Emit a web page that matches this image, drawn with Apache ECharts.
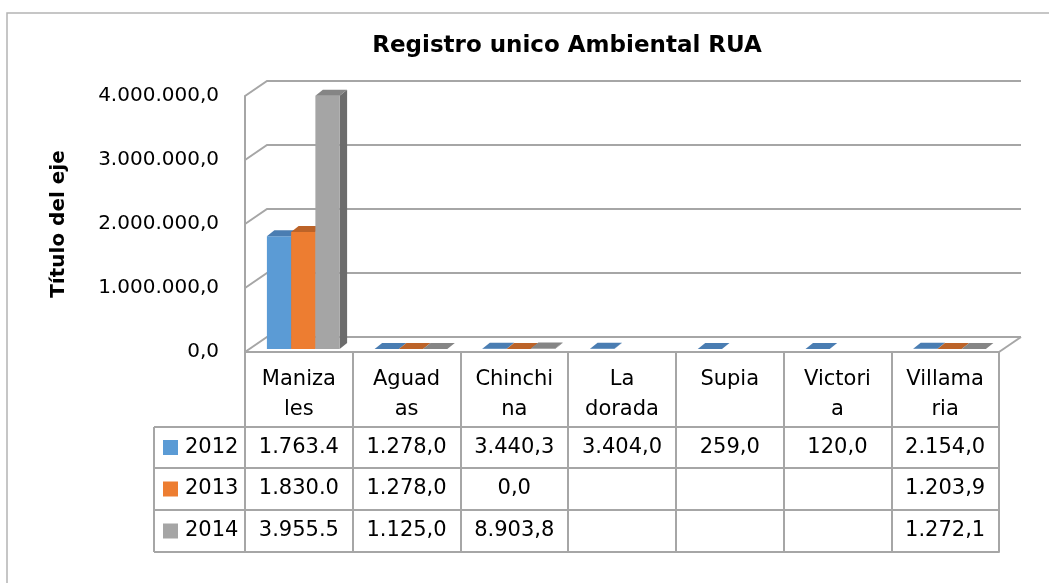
<!DOCTYPE html>
<html>
<head>
<meta charset="utf-8">
<script src="https://cdn.jsdelivr.net/npm/echarts@6/dist/echarts.min.js"></script>
<style>
  html, body { margin: 0; padding: 0; background: #fff; }
  #chart { width: 1049px; height: 583px; }
</style>
</head>
<body>
<div id="chart"></div>
<script>
// Municipios (header text of the data table, wrapped as in the cells)
const categories = ['Maniza\nles', 'Aguad\nas', 'Chinchi\nna', 'La\ndorada', 'Supia', 'Victori\na', 'Villama\nria'];
const years = ['2012', '2013', '2014'];
const values2012 = [1763400, 1278.0, 3440.3, 3404.0, 259.0, 120.0, 2154.0];
const values2013 = [1830000, 1278.0, 0.0, null, null, null, 1203.9];
const values2014 = [3955500, 1125.0, 8903.8, null, null, null, 1272.1];
const yTicks = [0, 1000000, 2000000, 3000000, 4000000];

const seriesValues = [values2012, values2013, values2014];
const FONT = 'DejaVu Sans';
const LINE = '#A6A6A6';
const faceColors = [
  { front: '#5B9BD5', top: '#4A7DB2', side: '#3F6C9B' },
  { front: '#ED7D31', top: '#BC6328', side: '#A55622' },
  { front: '#A5A5A5', top: '#858585', side: '#6C6C6C' }
];

// plot frame and perspective depth
const GRID = { left: 245, right: 50, top: 96, bottom: 231 };
const FRONT_Y = 583 - GRID.bottom;
const DX = 22, DY = -15;          // floor depth
const BAR_DX = 7.5, BAR_DY = -6;  // bar depth
const BAR_SHIFT = 0.2;            // bars sit slightly behind the front edge
const ROW_OFFSETS = [75, 116, 158, 200];

// 4000000 -> "4.000.000,0"
function fmtEs(v) {
  const parts = Math.abs(v).toFixed(1).split('.');
  return (v < 0 ? '-' : '') + parts[0].replace(/\B(?=(\d{3})+(?!\d))/g, '.') + ',' + parts[1];
}
// table cells are narrow: long numbers get cut off at seven characters
function cellText(v) {
  if (v === null || v === undefined) return '';
  const s = fmtEs(v);
  return s.length > 7 ? s.slice(0, 7) : s;
}

function wallRenderer(params, api) {
  const v = api.value(1);
  const p = api.coord([0, v]);
  const band = api.size([1, 0])[0];
  const x0 = p[0] - band / 2;
  const x1 = api.coord([categories.length - 1, v])[0] + band / 2;
  const y = p[1];
  const style = { stroke: LINE, lineWidth: 2, fill: null };
  const children = [{
    type: 'polyline',
    shape: { points: [[x0, y], [x0 + DX, y + DY], [x1 + DX, y + DY]] },
    style: style
  }];
  if (v === 0) {
    children.push({ type: 'line', shape: { x1: x1, y1: y, x2: x1 + DX, y2: y + DY }, style: style });
  }
  return { type: 'group', children: children };
}

function barRenderer(idx) {
  const c = faceColors[idx];
  return function (params, api) {
    const cat = api.value(0);
    const v = api.value(1);
    const base = api.coord([cat, 0]);
    const topP = api.coord([cat, v]);
    const band = api.size([1, 0])[0];
    const bw = band * 0.225;
    const sx = DX * BAR_SHIFT, sy = DY * BAR_SHIFT;
    const l = base[0] - 1.5 * bw + idx * bw + sx;
    const r = l + bw;
    const yb = base[1] + sy;
    const yt = topP[1] + sy;
    return {
      type: 'group',
      children: [
        { type: 'polygon', shape: { points: [[r, yt], [r + BAR_DX, yt + BAR_DY], [r + BAR_DX, yb + BAR_DY], [r, yb]] },
          style: { fill: c.side } },
        { type: 'rect', shape: { x: l, y: yt, width: bw, height: yb - yt }, style: { fill: c.front } },
        { type: 'polygon', shape: { points: [[l, yt], [r, yt], [r + BAR_DX, yt + BAR_DY], [l + BAR_DX, yt + BAR_DY]] },
          style: { fill: c.top } }
      ]
    };
  };
}

const axisLineStyle = { color: LINE, width: 2 };

const xAxes = [{
  type: 'category',
  data: categories,
  position: 'bottom',
  axisLine: { show: true, lineStyle: axisLineStyle },
  axisTick: { show: true, interval: 0, length: ROW_OFFSETS[0], lineStyle: axisLineStyle },
  axisLabel: { interval: 0, margin: 13, lineHeight: 30, fontSize: 21, color: '#000', fontFamily: FONT },
  splitLine: { show: false }
}];
seriesValues.forEach(function (vals, i) {
  xAxes.push({
    type: 'category',
    data: categories,
    position: 'bottom',
    offset: ROW_OFFSETS[i],
    axisLine: { show: true, lineStyle: axisLineStyle },
    axisTick: { show: true, interval: 0, length: ROW_OFFSETS[i + 1] - ROW_OFFSETS[i], lineStyle: axisLineStyle },
    axisLabel: {
      interval: 0, margin: 9, lineHeight: 24, fontSize: 21, color: '#000', fontFamily: FONT,
      formatter: function (value, index) { return cellText(vals[index]); }
    },
    splitLine: { show: false }
  });
});
xAxes.push({
  type: 'category',
  data: categories,
  position: 'bottom',
  offset: ROW_OFFSETS[3],
  axisLine: { show: true, lineStyle: axisLineStyle },
  axisTick: { show: false },
  axisLabel: { show: false },
  splitLine: { show: false }
});

// data table: legend column on the left
const TABLE_LEFT = 154;
const legendGraphics = [];
ROW_OFFSETS.forEach(function (off) {
  legendGraphics.push({ type: 'line', silent: true,
    shape: { x1: TABLE_LEFT, y1: FRONT_Y + off, x2: GRID.left, y2: FRONT_Y + off },
    style: { stroke: LINE, lineWidth: 2 } });
});
legendGraphics.push({ type: 'line', silent: true,
  shape: { x1: TABLE_LEFT, y1: FRONT_Y + ROW_OFFSETS[0], x2: TABLE_LEFT, y2: FRONT_Y + ROW_OFFSETS[3] },
  style: { stroke: LINE, lineWidth: 2 } });
years.forEach(function (yr, i) {
  const cy = FRONT_Y + (ROW_OFFSETS[i] + ROW_OFFSETS[i + 1]) / 2;
  legendGraphics.push({ type: 'rect', silent: true,
    shape: { x: 163, y: cy - 7.5, width: 15, height: 15 }, style: { fill: faceColors[i].front } });
  legendGraphics.push({ type: 'text', silent: true, x: 185, y: cy,
    style: { text: yr, font: '21px "' + FONT + '"', fill: '#000', align: 'left', verticalAlign: 'middle' } });
});

const series = [{
  type: 'custom',
  name: 'walls',
  silent: true,
  xAxisIndex: 0,
  yAxisIndex: 0,
  data: yTicks.map(function (v) { return [0, v]; }),
  renderItem: wallRenderer,
  z: 1
}];
seriesValues.forEach(function (vals, i) {
  const data = [];
  vals.forEach(function (v, k) { if (v !== null) data.push([k, v]); });
  series.push({
    type: 'custom',
    name: years[i],
    xAxisIndex: 0,
    yAxisIndex: 0,
    data: data,
    renderItem: barRenderer(i),
    z: 2
  });
});

const chart = echarts.init(document.getElementById('chart'), null, { renderer: 'canvas' });
chart.setOption({
  animation: false,
  backgroundColor: '#fff',
  grid: { left: GRID.left, right: GRID.right, top: GRID.top, bottom: GRID.bottom, containLabel: false },
  xAxis: xAxes,
  yAxis: {
    type: 'value',
    min: 0,
    max: 4000000,
    interval: 1000000,
    axisLine: { show: true, lineStyle: axisLineStyle },
    axisTick: { show: false },
    splitLine: { show: false },
    axisLabel: { formatter: fmtEs, margin: 26, fontSize: 20, color: '#000', fontFamily: FONT, padding: [5, 0, 0, 0] },
    name: 'Título del eje',
    nameLocation: 'middle',
    nameGap: 176,
    nameRotate: 90,
    nameTextStyle: { fontSize: 20, fontWeight: 'bold', color: '#000', fontFamily: FONT }
  },
  graphic: [
    { type: 'polyline', silent: true, shape: { points: [[7, 583], [7, 13], [1049, 13]] },
      style: { fill: null, stroke: '#B4B4B4', lineWidth: 1.5 } },
    { type: 'text', silent: true, x: 567, y: 46,
      style: { text: 'Registro unico Ambiental RUA', font: 'bold 23px "' + FONT + '"', fill: '#000',
               align: 'center', verticalAlign: 'middle' } }
  ].concat(legendGraphics),
  series: series
});
</script>
</body>
</html>
